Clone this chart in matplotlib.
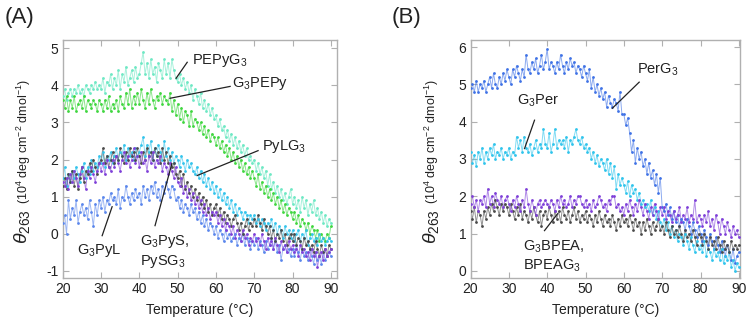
import numpy as np
import matplotlib
matplotlib.use("Agg")
import matplotlib.pyplot as plt

plt.rcParams['font.family'] = ['Liberation Sans', 'DejaVu Sans']
plt.rcParams['mathtext.fontset'] = 'custom'
plt.rcParams['mathtext.rm'] = 'Liberation Sans'
plt.rcParams['mathtext.it'] = 'Liberation Sans:italic'

# Temperature grid (°C), 0.5 °C steps
temperature = np.arange(20, 90.01, 0.5)

# ---- Panel A ----
PEPyG3 = [3.7, 3.9, 3.6, 3.8, 3.9, 3.7, 3.9, 3.8, 4.0, 3.8, 3.9, 3.7, 4.0, 3.9, 3.8, 4.0, 3.9, 4.1, 3.9, 4.0,
          3.9, 4.2, 3.8, 4.1, 4.0, 4.3, 3.9, 4.2, 4.0, 4.4, 3.9, 4.3, 4.1, 4.5, 4.0, 4.2, 4.4, 4.1, 4.5, 4.2,
          4.3, 4.6, 4.9, 4.3, 4.6, 4.2, 4.7, 4.3, 4.5, 4.1, 4.6, 4.4, 4.2, 4.7, 4.3, 4.6, 4.2, 4.7, 4.4, 4.2,
          4.1, 4.3, 4.0, 4.2, 3.9, 4.1, 3.8, 4.0, 3.6, 3.9, 3.7, 3.5, 3.8, 3.4, 3.6, 3.3, 3.5, 3.2, 3.4, 3.1,
          3.2, 2.9, 3.1, 2.8, 2.9, 2.6, 2.8, 2.5, 2.7, 2.4, 2.6, 2.3, 2.5, 2.2, 2.4, 2.1, 2.3, 2.0, 2.1, 1.9,
          2.0, 1.7, 1.9, 1.6, 1.8, 1.5, 1.7, 1.3, 1.6, 1.2, 1.4, 1.1, 1.3, 1.0, 1.2, 0.9, 1.1, 0.8, 1.0, 1.2,
          0.8, 1.0, 0.7, 0.9, 0.6, 1.0, 0.7, 0.9, 0.5, 0.8, 0.6, 0.9, 0.5, 0.7, 0.4, 0.6, 0.3, 0.5, 0.2, 0.4,
          0.3]
G3PEPy = [3.6, 3.4, 3.7, 3.3, 3.6, 3.4, 3.7, 3.3, 3.5, 3.6, 3.4, 3.7, 3.3, 3.6, 3.5, 3.4, 3.6, 3.5, 3.3, 3.6,
          3.5, 3.3, 3.6, 3.4, 3.7, 3.3, 3.5, 3.4, 3.6, 3.3, 3.7, 3.5, 3.4, 3.8, 3.5, 3.9, 3.4, 3.7, 3.5, 3.8,
          3.5, 3.9, 3.6, 3.4, 3.8, 3.5, 3.9, 3.6, 3.4, 3.7, 3.6, 3.8, 3.5, 3.7, 3.6, 3.5, 3.8, 3.3, 3.6, 3.2,
          3.5, 3.1, 3.4, 3.0, 3.3, 3.2, 2.9, 3.3, 2.9, 3.1, 3.0, 2.8, 3.0, 2.7, 2.9, 2.6, 2.8, 2.5, 2.7, 2.6,
          2.4, 2.6, 2.3, 2.5, 2.2, 2.4, 2.1, 2.3, 2.0, 2.2, 1.9, 2.1, 1.8, 2.0, 1.7, 1.9, 1.6, 1.8, 1.5, 1.7,
          1.5, 1.3, 1.6, 1.2, 1.4, 1.1, 1.3, 1.0, 1.2, 0.9, 1.1, 0.8, 1.0, 0.7, 0.9, 0.6, 0.8, 0.5, 0.7, 0.6,
          0.4, 0.6, 0.3, 0.5, 0.2, 0.4, 0.3, 0.1, 0.3, 0.0, 0.2, 0.1, -0.1, 0.1, -0.2, 0.0, -0.1, -0.2, 0.0, -0.1,
          0.2]
PyLG3 = [1.5, 1.8, 1.3, 1.6, 1.4, 1.7, 1.5, 1.8, 1.6, 1.4, 1.7, 1.9, 1.5, 1.8, 1.6, 2.0, 1.7, 1.9, 1.8, 2.1,
         1.9, 2.2, 1.8, 2.1, 2.0, 2.2, 1.9, 2.1, 2.3, 2.0, 2.2, 2.1, 2.4, 2.0, 2.3, 2.1, 2.2, 2.0, 2.3, 2.1,
         2.2, 2.4, 2.6, 2.1, 2.4, 2.2, 2.5, 2.0, 2.3, 2.1, 2.4, 2.2, 2.0, 2.5, 2.1, 2.3, 2.0, 2.2, 1.9, 2.1,
         2.0, 1.8, 2.1, 1.9, 1.7, 2.0, 1.8, 1.9, 1.7, 1.6, 1.8, 1.5, 1.7, 1.4, 1.6, 1.3, 1.5, 1.2, 1.4, 1.1,
         1.3, 1.0, 1.2, 0.9, 1.1, 0.8, 1.0, 0.7, 0.9, 0.6, 0.8, 0.5, 0.7, 0.6, 0.4, 0.6, 0.5, 0.3, 0.5, 0.4,
         0.5, 0.3, 0.4, 0.2, 0.4, 0.3, 0.1, 0.3, 0.2, 0.4, 0.1, 0.3, 0.0, 0.2, 0.1, -0.1, 0.2, 0.0, 0.1, -0.1,
         0.1, -0.2, 0.0, 0.1, -0.2, 0.0, -0.1, 0.1, -0.3, -0.1, 0.0, -0.2, -0.1, -0.3, 0.0, -0.2, -0.1, -0.3, -0.2, -0.1,
         -0.2]
G3PyL = [0.3, 0.5, 0.0, 0.9, 0.4, 0.7, 0.5, 0.9, 0.3, 0.6, 0.8, 0.5, 0.7, 0.4, 0.9, 0.6, 0.2, 0.8, 0.5, 0.9,
         0.7, 1.0, 0.6, 0.9, 0.8, 1.1, 0.9, 1.0, 0.8, 1.2, 0.7, 1.0, 0.9, 1.3, 1.0, 0.8, 1.1, 0.9, 1.2, 1.0,
         1.1, 0.8, 1.3, 1.0, 1.2, 0.9, 1.3, 1.1, 1.4, 1.0, 1.2, 0.9, 1.3, 1.1, 1.4, 1.2, 1.0, 1.3, 1.2, 0.9,
         1.0, 0.7, 0.9, 0.6, 0.8, 0.7, 0.5, 0.8, 0.6, 0.7, 0.4, 0.6, 0.3, 0.5, 0.2, 0.4, 0.1, 0.3, 0.2, 0.0,
         0.2, -0.1, 0.1, 0.0, -0.2, 0.1, -0.1, 0.0, -0.2, -0.1, 0.0, -0.3, -0.1, -0.2, 0.0, -0.3, -0.1, -0.2, -0.4, -0.2,
         -0.3, -0.1, -0.4, -0.2, -0.3, -0.5, -0.2, -0.4, -0.3, -0.1, -0.4, -0.2, -0.5, -0.3, -0.7, -0.4, -0.3, -0.5, -0.4, -0.6,
         -0.4, -0.6, -0.3, -0.5, -0.7, -0.4, -0.6, -0.5, -0.7, -0.4, -0.6, -0.8, -0.5, -0.7, -0.6, -0.8, -0.5, -0.7, -0.6, -0.5,
         -0.6]
G3PyS = [1.4, 1.3, 1.5, 1.2, 1.6, 1.4, 1.7, 1.5, 1.3, 1.6, 1.8, 1.5, 1.2, 1.7, 1.5, 1.8, 1.6, 1.4, 1.7, 1.9,
         1.7, 1.9, 1.6, 2.0, 1.8, 1.7, 2.0, 1.8, 2.1, 1.9, 1.7, 2.0, 2.2, 1.9, 2.1, 1.8, 2.0, 2.3, 1.9, 2.1,
         1.8, 2.2, 1.9, 2.0, 1.7, 2.1, 1.9, 2.2, 1.8, 2.0, 1.9, 2.1, 1.7, 1.9, 1.8, 1.6, 1.9, 1.7, 1.5, 1.8,
         1.4, 1.3, 1.5, 1.1, 1.3, 1.0, 1.2, 0.9, 1.1, 0.8, 1.0, 0.7, 0.9, 0.6, 0.8, 0.5, 0.7, 0.4, 0.6, 0.5,
         0.6, 0.3, 0.5, 0.2, 0.4, 0.1, 0.3, 0.2, 0.0, 0.2, -0.1, 0.1, 0.0, -0.2, 0.1, -0.1, 0.0, -0.3, -0.1, -0.2,
         0.0, -0.2, -0.1, -0.3, 0.0, -0.2, -0.4, -0.1, -0.3, -0.2, -0.4, -0.1, -0.3, -0.5, -0.2, -0.4, -0.3, -0.5, -0.2, -0.4,
         -0.3, -0.5, -0.4, -0.6, -0.3, -0.5, -0.4, -0.6, -0.5, -0.7, -0.4, -0.6, -0.5, -0.9, -0.6, -0.5, -0.7, -0.4, -0.6, -0.5,
         -0.4]
PySG3 = [1.3, 1.5, 1.2, 1.6, 1.4, 1.7, 1.3, 1.6, 1.2, 1.5, 1.8, 1.4, 1.7, 1.6, 1.9, 1.7, 2.0, 1.8, 1.6, 1.9,
         2.0, 2.3, 1.9, 2.1, 1.8, 2.0, 2.2, 1.9, 2.1, 2.0, 2.3, 2.1, 1.9, 2.2, 2.0, 2.3, 2.1, 2.2, 2.0, 2.3,
         2.1, 1.9, 2.2, 2.0, 2.3, 2.1, 2.2, 2.0, 2.3, 2.1, 2.2, 1.9, 2.3, 2.0, 2.2, 1.9, 2.1, 1.8, 1.9, 1.6,
         1.5, 1.7, 1.3, 1.6, 1.2, 1.4, 1.1, 1.3, 1.0, 1.2, 0.9, 1.1, 0.8, 1.0, 0.7, 0.9, 0.6, 0.8, 0.5, 0.7,
         0.8, 0.5, 0.7, 0.4, 0.6, 0.3, 0.5, 0.4, 0.2, 0.4, 0.5, 0.3, 0.1, 0.3, 0.0, 0.2, 0.4, 0.1, 0.3, 0.2,
         0.4, 0.2, 0.5, 0.3, 0.1, 0.4, 0.2, 0.0, 0.2, -0.1, 0.1, -0.2, 0.0, -0.1, 0.1, -0.2, 0.0, -0.3, -0.1, 0.0,
         -0.2, 0.0, -0.3, -0.1, -0.2, -0.4, -0.1, -0.3, -0.2, -0.4, -0.3, -0.5, -0.2, -0.4, -0.6, -0.3, -0.5, -0.4, -0.6, -0.3,
         -0.4]

# ---- Panel B ----
PerG3 = [4.9, 5.0, 4.8, 5.1, 4.8, 5.0, 4.9, 5.1, 4.8, 5.0, 5.2, 4.9, 5.3, 5.0, 4.9, 5.2, 5.0, 5.3, 5.1, 5.4,
         5.2, 5.0, 5.4, 5.2, 5.5, 5.3, 5.1, 5.4, 5.2, 5.8, 5.4, 5.3, 5.6, 5.4, 5.7, 5.3, 5.5, 5.8, 5.4, 5.6,
         5.95, 5.4, 5.6, 5.5, 5.3, 5.6, 5.4, 5.8, 5.5, 5.3, 5.6, 5.4, 5.7, 5.5, 5.6, 5.3, 5.5, 5.4, 5.2, 5.5,
         5.3, 5.1, 5.4, 4.9, 5.2, 4.8, 5.0, 4.7, 4.9, 4.6, 4.8, 4.4, 4.7, 4.5, 4.4, 4.6, 4.5, 4.3, 4.8, 4.2,
         4.2, 3.9, 4.1, 3.7, 3.2, 3.5, 2.9, 3.3, 3.0, 3.2, 2.8, 3.0, 2.6, 2.9, 2.5, 2.7, 2.3, 2.6, 2.1, 2.5,
         1.7, 1.6, 1.8, 1.5, 1.7, 1.4, 1.6, 1.3, 1.5, 1.2, 1.4, 1.3, 1.1, 1.4, 1.2, 1.0, 1.3, 1.1, 0.9, 1.2,
         1.0, 0.8, 1.1, 0.9, 0.7, 1.0, 0.8, 0.6, 0.9, 0.7, 0.5, 0.8, 0.6, 0.4, 0.7, 0.5, 0.3, 0.6, 0.2, 0.4,
         0.5]
G3Per = [3.2, 2.9, 3.1, 2.8, 3.2, 3.0, 3.3, 2.9, 3.2, 3.0, 3.3, 3.1, 3.4, 3.0, 3.2, 3.1, 3.3, 3.0, 3.2, 3.1,
         3.3, 3.0, 3.2, 3.1, 3.6, 3.3, 3.5, 3.2, 3.6, 3.3, 3.2, 3.4, 3.1, 3.3, 3.5, 3.2, 3.4, 3.3, 3.8, 3.4,
         3.3, 3.7, 3.2, 3.4, 3.8, 3.3, 3.5, 3.4, 3.5, 3.3, 3.6, 3.2, 3.5, 3.4, 3.6, 3.8, 3.5, 3.4, 3.6, 3.3,
         3.4, 3.2, 3.3, 3.0, 3.2, 2.9, 3.1, 2.8, 3.0, 2.9, 2.7, 3.0, 2.6, 2.9, 2.5, 2.8, 2.2, 2.6, 2.3, 2.5,
         2.3, 2.1, 2.4, 2.0, 2.3, 2.1, 2.2, 1.9, 2.1, 1.8, 1.9, 1.7, 1.8, 1.6, 1.9, 1.5, 1.7, 1.4, 1.6, 1.3,
         1.2, 1.4, 1.1, 1.3, 1.0, 1.2, 0.9, 1.1, 0.8, 1.0, 0.9, 0.7, 1.0, 0.8, 0.6, 0.9, 0.7, 0.5, 0.8, 0.6,
         0.7, 0.5, 0.8, 0.4, 0.6, 0.5, 0.3, 0.6, 0.4, 0.5, 0.3, 0.6, 0.2, 0.4, 0.3, 0.5, 0.1, 0.3, 0.0, 0.2,
         0.1]
G3BPEA = [1.8, 2.0, 1.7, 1.9, 1.6, 1.9, 1.8, 2.0, 1.7, 2.2, 1.8, 2.0, 1.7, 2.1, 1.9, 1.8, 2.0, 1.7, 1.9, 2.0,
          1.8, 1.6, 1.9, 1.7, 2.0, 1.8, 1.6, 1.9, 1.7, 2.2, 1.8, 1.6, 1.9, 1.7, 1.5, 1.8, 1.9, 1.7, 1.8, 1.9,
          1.8, 1.7, 1.9, 1.8, 1.6, 1.9, 1.7, 2.0, 1.8, 1.9, 1.7, 1.8, 2.0, 1.7, 1.9, 1.8, 2.0, 2.0, 1.8, 1.7,
          1.9, 1.7, 1.8, 1.6, 1.9, 1.7, 1.8, 2.0, 1.9, 1.7, 1.8, 1.6, 1.9, 1.8, 2.0, 2.0, 1.7, 1.8, 1.6, 1.7,
          1.5, 1.8, 1.6, 1.9, 1.7, 1.5, 1.8, 1.6, 1.9, 1.7, 1.5, 1.8, 1.6, 1.4, 1.7, 1.5, 1.8, 1.6, 1.4, 1.7,
          1.5, 1.7, 1.4, 1.6, 1.5, 1.3, 1.6, 1.4, 1.5, 1.7, 1.3, 1.5, 1.4, 1.7, 1.3, 1.5, 1.4, 1.9, 1.3, 1.5,
          1.4, 1.2, 1.5, 1.3, 1.6, 1.2, 1.4, 1.1, 1.5, 1.3, 1.0, 1.4, 1.2, 1.0, 1.3, 1.1, 0.9, 1.2, 1.0, 1.1,
          0.9]
BPEAG3 = [1.6, 1.4, 1.7, 1.3, 1.6, 1.5, 1.2, 1.6, 1.4, 1.7, 1.5, 1.8, 1.6, 1.9, 1.7, 1.5, 1.8, 1.6, 1.8, 1.7,
          1.5, 1.8, 1.6, 1.4, 1.7, 1.5, 1.8, 1.4, 1.6, 1.5, 1.3, 1.6, 1.4, 1.7, 1.5, 1.3, 1.6, 1.2, 1.5, 1.6,
          1.4, 1.7, 1.5, 1.3, 1.6, 1.4, 1.6, 1.3, 1.7, 1.5, 1.4, 1.6, 1.3, 1.5, 1.7, 1.4, 1.6, 1.3, 1.5, 1.4,
          1.6, 1.3, 1.5, 1.4, 1.2, 1.5, 1.3, 1.6, 1.4, 1.2, 1.5, 1.3, 1.4, 1.2, 1.5, 1.3, 1.1, 1.4, 1.2, 1.5,
          1.3, 1.4, 1.2, 1.5, 1.3, 1.1, 1.4, 1.2, 1.3, 1.0, 1.3, 1.1, 1.4, 1.2, 1.0, 1.3, 1.1, 1.2, 1.4, 1.1,
          1.2, 1.0, 1.3, 1.1, 0.9, 1.2, 1.0, 1.1, 0.9, 1.2, 1.0, 0.8, 1.1, 0.9, 1.0, 0.8, 1.1, 0.9, 0.7, 1.0,
          0.9, 0.7, 1.0, 0.8, 0.6, 0.9, 0.7, 0.8, 0.6, 0.9, 0.7, 0.5, 0.8, 0.6, 0.7, 0.5, 0.8, 0.6, 0.7, 0.6,
          0.7]

x_ticks = [20, 30, 40, 50, 60, 70, 80, 90]
yticks_A = [-1, 0, 1, 2, 3, 4, 5]
yticks_B = [0, 1, 2, 3, 4, 5, 6]

series_A = [
    (PEPyG3, '#6ee8c4'),
    (G3PEPy, '#3fd63f'),
    (PyLG3, '#33c4ec'),
    (G3PyL, '#5a86ec'),
    (PySG3, '#4a4a4a'),
    (G3PyS, '#7e3fd8'),
]
series_B = [
    (PerG3, '#3f72e6'),
    (G3Per, '#2fc4ec'),
    (BPEAG3, '#4a4a4a'),
    (G3BPEA, '#7e3fd8'),
]

fig = plt.figure(figsize=(7.51, 3.2), dpi=100)
W, H = 751, 320
axA = fig.add_axes([62.7 / W, (H - 278) / H, (337 - 62.7) / W, (278 - 40) / H])
axB = fig.add_axes([470.5 / W, (H - 278) / H, (740 - 470.5) / W, (278 - 40) / H])

frame_col = '#b0b0b0'

def style(ax, xlim, ylim, yticks):
    ax.set_xlim(*xlim)
    ax.set_ylim(*ylim)
    ax.set_xticks(x_ticks)
    ax.set_yticks(yticks)
    ax.set_yticklabels([str(v) for v in yticks])
    ax.tick_params(direction='in', top=True, right=True, length=4, width=0.8,
                   color=frame_col, labelsize=10, labelcolor='#222222', pad=3)
    for sp in ax.spines.values():
        sp.set_color(frame_col)
        sp.set_linewidth(1.0)
    ax.set_xlabel('Temperature (°C)', fontsize=10, color='#222222', labelpad=5)
    # y label: large theta + smaller units
    ax.text(-0.147, 0.29, r'$\theta_{263}$', transform=ax.transAxes, rotation=90,
            fontsize=14, ha='center', va='top', color='#222222')
    ax.text(-0.142, 0.31, r'(10$^{4}$ deg cm$^{-2}$ dmol$^{-1}$)', transform=ax.transAxes,
            rotation=90, fontsize=9, ha='center', va='bottom', color='#222222')

def draw(ax, series):
    for vals, col in series:
        ax.plot(temperature, vals, '-', color=col, lw=0.7, alpha=0.6, zorder=2)
        ax.plot(temperature, vals, 'o', color=col, ms=2.0, mew=0, zorder=3)

draw(axA, series_A)
draw(axB, series_B)
style(axA, (20, 91.6), (-1.19, 5.22), yticks_A)
style(axB, (20, 90.3), (-0.19, 6.19), yticks_B)

def note(ax, text, txy, p0, p1, ha='left'):
    ax.text(txy[0], txy[1], text, fontsize=10.5, ha=ha, va='center', color='#222222')
    ax.plot([p0[0], p1[0]], [p0[1], p1[1]], color='#222222', lw=0.9, zorder=5)

note(axA, r'PEPyG$_3$', (53.8, 4.68), (52.5, 4.62), (49.6, 4.19))
note(axA, r'G$_3$PEPy', (64.2, 4.05), (63.7, 3.97), (48.0, 3.65))
note(axA, r'PyLG$_3$', (72.0, 2.35), (71.0, 2.24), (55.1, 1.57))
note(axA, r'G$_3$PyL', (23.7, -0.46), (30.3, -0.05), (32.9, 0.73))
note(axA, 'G$_3$PyS,\nPySG$_3$', (40.2, -0.48), (44.1, 0.22), (48.5, 1.89))

note(axB, r'PerG$_3$', (63.5, 5.38), (64.0, 5.06), (57.0, 4.36))
note(axB, r'G$_3$Per', (32.0, 4.57), (36.7, 4.04), (34.1, 3.28))
note(axB, 'G$_3$BPEA,\nBPEAG$_3$', (33.8, 0.40), (39.3, 1.08), (42.7, 1.53))

fig.text(5 / W, 1 - 18 / H, '(A)', fontsize=16, ha='left', va='center', color='#222222')
fig.text(392 / W, 1 - 18 / H, '(B)', fontsize=16, ha='left', va='center', color='#222222')

fig.savefig('out.png', dpi=100)
